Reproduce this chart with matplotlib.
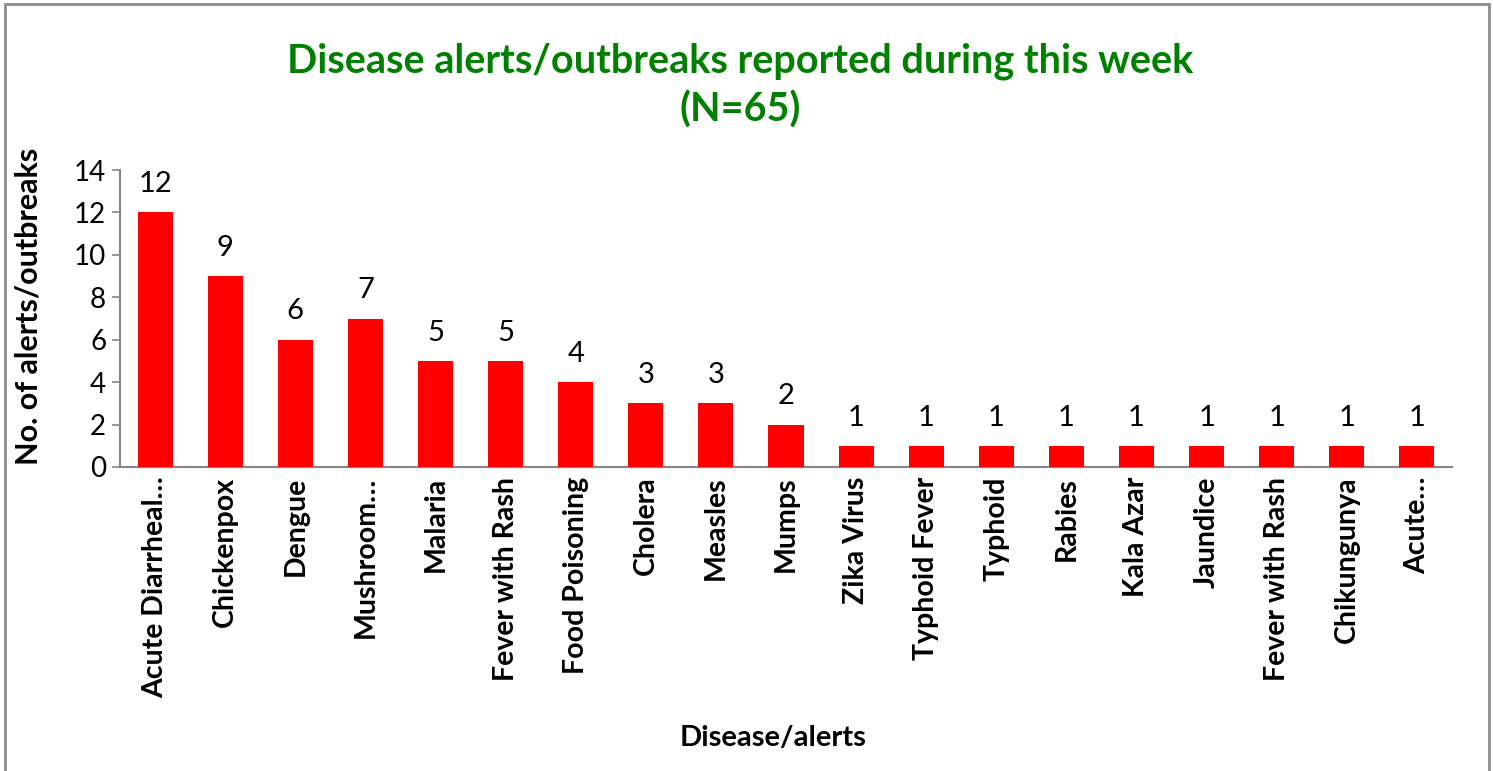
import matplotlib.pyplot as plt
from matplotlib.patches import Rectangle

# chart data
diseases = ["Acute Diarrheal…", "Chickenpox", "Dengue", "Mushroom…", "Malaria",
            "Fever with Rash", "Food Poisoning", "Cholera", "Measles", "Mumps",
            "Zika Virus", "Typhoid Fever", "Typhoid", "Rabies", "Kala Azar",
            "Jaundice", "Fever with Rash", "Chikungunya", "Acute…"]
counts = [12, 9, 6, 7, 5, 5, 4, 3, 3, 2, 1, 1, 1, 1, 1, 1, 1, 1, 1]
y_ticks = [0, 2, 4, 6, 8, 10, 12, 14]

title = "Disease alerts/outbreaks reported during this week\n(N=65)"
x_title = "Disease/alerts"
y_title = "No. of alerts/outbreaks"

plt.rcParams["font.family"] = ["Lato", "DejaVu Sans"]
axis_grey = "#868686"

fig = plt.figure(figsize=(14.93, 7.71), dpi=100)
ax = fig.add_axes([0.0804, 0.3943, 0.8921, 0.3852])

x = list(range(len(diseases)))
bars = ax.bar(x, counts, width=0.5, color="#ff0000", zorder=3)
ax.bar_label(bars, labels=[str(c) for c in counts], padding=11, fontsize=21, color="black")

ax.set_xlim(-0.5, len(diseases) - 0.5)
ax.set_ylim(0, 14)
ax.set_yticks(y_ticks)
ax.tick_params(axis="y", labelsize=20, color=axis_grey, length=6, width=1.2, pad=4)
ax.set_xticks(x)
ax.set_xticklabels(diseases, rotation=90, fontsize=20.5, fontweight="bold")
ax.tick_params(axis="x", length=0, pad=7)

for side in ["top", "right"]:
    ax.spines[side].set_visible(False)
for side in ["left", "bottom"]:
    ax.spines[side].set_color(axis_grey)
    ax.spines[side].set_linewidth(1.5)

ax.set_ylabel(y_title, fontsize=22, fontweight="bold")
ax.yaxis.set_label_coords(-0.058, 0.54)
fig.text(0.518, 0.043, x_title, ha="center", va="center", fontsize=21, fontweight="bold")
fig.text(0.496, 0.889, title, ha="center", va="center", fontsize=28.5,
         fontweight="bold", color="#008000", linespacing=1.35)

# outer chart border
fig.patches.append(Rectangle((0.0035, -0.01), 0.9935, 1.0045, transform=fig.transFigure,
                             fill=False, edgecolor="#8c8c8c", linewidth=2))

fig.savefig("out.png", dpi=100)
